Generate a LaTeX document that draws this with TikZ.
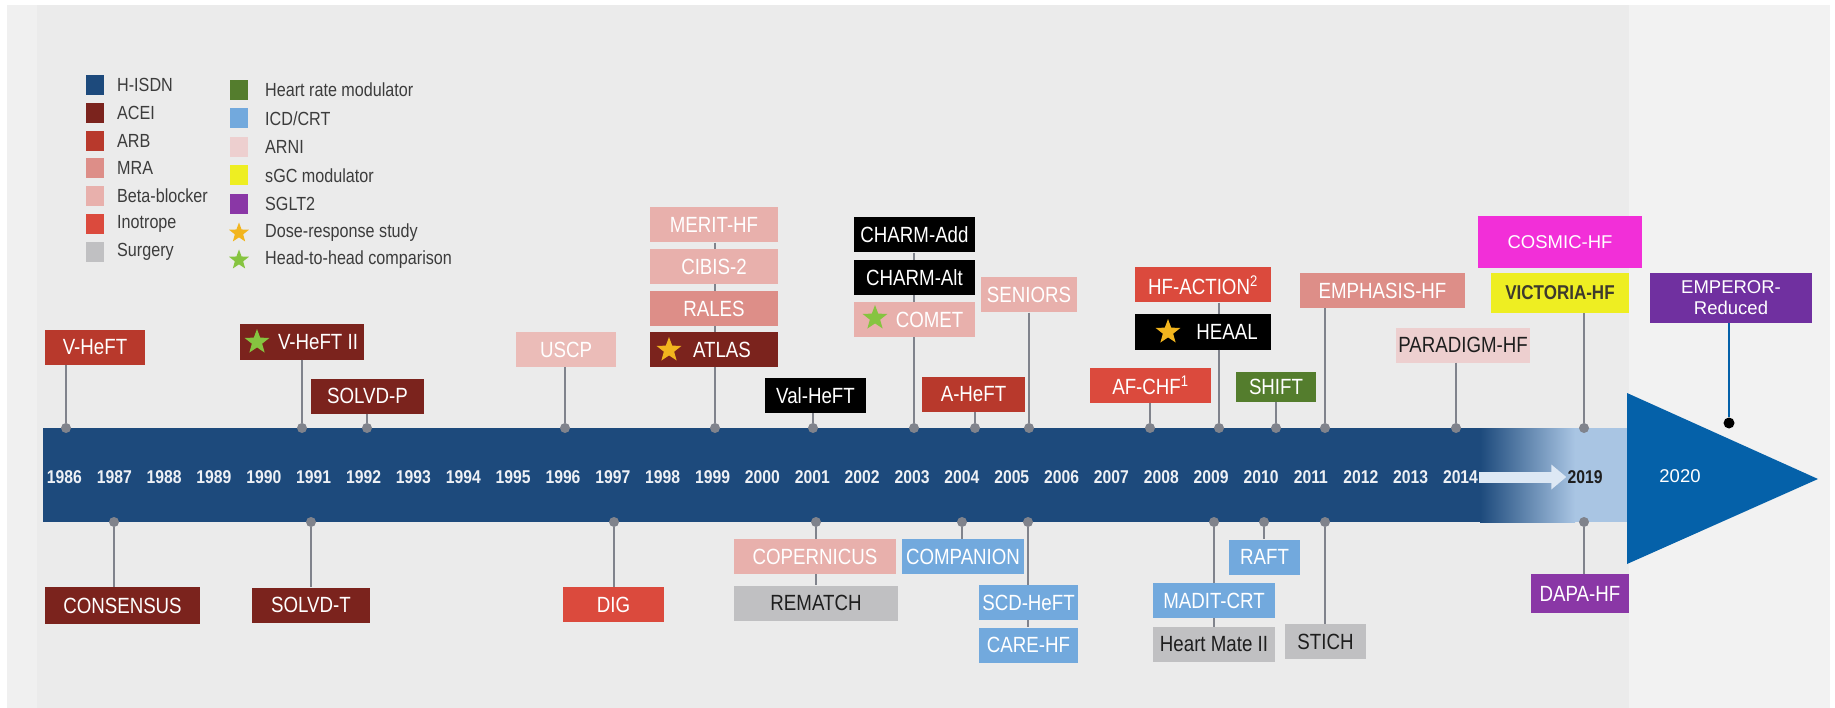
\documentclass[tikz,border=0pt]{standalone}
\usepackage{fontspec}
\setmainfont{Liberation Sans}
\newfontfamily\oldfont{Liberation Sans}[FakeStretch=0.85]
\usetikzlibrary{arrows.meta,shapes.geometric}
\definecolor{hisdn}{HTML}{1D4A7C}
\definecolor{acei}{HTML}{7B231D}
\definecolor{arb}{HTML}{B8392C}
\definecolor{mra}{HTML}{DD8E88}
\definecolor{bblock}{HTML}{E8B0AC}
\definecolor{inotrope}{HTML}{DB4A3D}
\definecolor{surgery}{HTML}{C0C0C2}
\definecolor{hrmod}{HTML}{547D2D}
\definecolor{icdcrt}{HTML}{72A9DD}
\definecolor{arni}{HTML}{EDCFCF}
\definecolor{sgc}{HTML}{EEEE22}
\definecolor{sglt}{HTML}{8A37A6}
\definecolor{dosestar}{HTML}{F2B51E}
\definecolor{hthstar}{HTML}{86C440}
\definecolor{cosmic}{HTML}{F22FD8}
\definecolor{emperor}{HTML}{7030A0}
\definecolor{arrowblue}{HTML}{0561A9}
\definecolor{fadeblue}{HTML}{A9C5E3}
\definecolor{photo}{HTML}{EBEBEB}
\definecolor{photostrip}{HTML}{F0F0F0}
\definecolor{panel}{HTML}{F2F2F2}
\definecolor{stemgrey}{HTML}{80838C}
\definecolor{keyink}{HTML}{3C3C3C}
\definecolor{darkink}{HTML}{1E1E1E}
\tikzset{
  trial/.style={minimum height=35pt, inner sep=0pt, text=white, font=\oldfont\fontsize{22}{24}\selectfont},
  newtrial/.style={inner sep=0pt, text=white, align=center, font=\fontsize{18.5}{22}\selectfont},
  year/.style={text=white!92!hisdn, inner sep=1pt, font=\oldfont\bfseries\fontsize{18.5}{20}\selectfont},
  conn/.style={draw=stemgrey, line width=2.2pt},
  yeardot/.style={circle, fill=stemgrey, minimum size=10pt, inner sep=0pt},
  swatch/.style={minimum width=18pt, minimum height=20pt, inner sep=0pt},
  keytext/.style={anchor=west, inner sep=0pt, text=keyink, font=\oldfont\fontsize{19}{22}\selectfont},
  award/.style={star, star points=5, star point ratio=2.4, minimum size=26pt, inner sep=0pt}
}
\begin{document}
\begin{tikzpicture}[x=1pt,y=-1pt]
\useasboundingbox (0,0) rectangle (1835,708);
% background
\fill[white] (0,0) rectangle (1835,708);
\fill[photo] (7,5) rectangle (1629,708);
\fill[photostrip] (7,5) rectangle (37,708);
\fill[panel] (1629,5) rectangle (1830,708);

% legend
\foreach \c/\t [count=\i from 0] in {hisdn/H-ISDN, acei/ACEI, arb/ARB, mra/MRA, bblock/Beta-blocker, inotrope/Inotrope, surgery/Surgery}{
  \node[swatch, fill=\c] (sw\i) at (95,{85+27.8*\i}) {};
  \node[keytext] (kt\i) at (117,{85+27.8*\i}) {\t};
}
\foreach \c/\t [count=\i from 0] in {hrmod/Heart rate modulator, icdcrt/{ICD/CRT}, arni/ARNI, sgc/sGC modulator, sglt/SGLT2}{
  \node[swatch, fill=\c] (swb\i) at (239,{90+28.5*\i}) {};
  \node[keytext] (ktb\i) at (265,{90+28.5*\i}) {\t};
}
\node[award, fill=dosestar, minimum size=21pt] (swdose) at (239,233) {};
\node[keytext] (ktdose) at (265,233) {Dose-response study};
\node[award, fill=hthstar, minimum size=21pt] (swhth) at (239,260) {};
\node[keytext] (kthth) at (265,260) {Head-to-head comparison};

% timeline bar
\fill[hisdn] (43,428) rectangle (1480,522);
\shade[left color=hisdn, right color=fadeblue] (1480,428) rectangle (1575,522);
\fill[fadeblue] (1575,428) rectangle (1629,522);
\foreach \yr [count=\i from 0] in {1986,...,2014}
  \node[year] (y\yr) at ({64.4+49.86*\i},477) {\yr};
\node[year, text=darkink] (y2019) at (1585,477) {2019};
\draw[draw=white!60!fadeblue, line width=11pt, -{Triangle[length=15pt,width=24pt]}] (y2014.east) -- (y2019.west);

% 2020 arrow
\fill[arrowblue] (1627,393) -- (1818,479) -- (1627,564) -- cycle;
\node[newtrial] (y2020) at (1680,476) {2020};

% trials above the bar
\node[trial, fill=arb, minimum width=100pt] (vheft) at (95,347) {V-HeFT};
\node[trial, fill=acei, minimum width=124pt] (vhefttwo) at (302,342) {\hspace{32pt}V-HeFT II};
\node[trial, fill=acei, minimum width=113pt] (solvdp) at (367.5,396) {SOLVD-P};
\node[trial, fill=bblock!85!white, minimum width=100pt] (uscp) at (566,349.5) {USCP};
\node[trial, fill=bblock, minimum width=128pt] (merit) at (714,225) {MERIT-HF};
\node[trial, fill=bblock, minimum width=128pt] (cibis) at (714,266.5) {CIBIS-2};
\node[trial, fill=mra, minimum width=128pt] (rales) at (714,308.5) {RALES};
\node[trial, fill=acei, minimum width=128pt] (atlas) at (714,349.5) {\hspace{16pt}ATLAS};
\node[trial, fill=black, minimum width=101pt] (valheft) at (815.5,395.5) {Val-HeFT};
\node[trial, fill=black, minimum width=121pt] (charmadd) at (914.5,235) {CHARM-Add};
\node[trial, fill=black, minimum width=121pt] (charmalt) at (914.5,277.5) {CHARM-Alt};
\node[trial, fill=bblock, minimum width=121pt] (comet) at (914.5,319.5) {\hspace{30pt}COMET};
\node[trial, fill=arb, minimum width=103pt] (aheft) at (973.5,394.5) {A-HeFT};
\node[trial, fill=bblock, minimum width=96pt] (seniors) at (1029,295) {SENIORS};
\node[trial, fill=inotrope, minimum width=121pt] (afchf) at (1150.5,385.5) {AF-CHF\textsuperscript{1}};
\node[trial, fill=inotrope, minimum width=136pt] (hfaction) at (1203,285) {HF-ACTION\textsuperscript{2}};
\node[trial, fill=black, minimum width=136pt] (heaal) at (1203,332) {\hspace{48pt}HEAAL};
\node[trial, fill=hrmod, minimum width=80pt, minimum height=30pt] (shifthf) at (1276,387) {SHIFT};
\node[trial, fill=mra, minimum width=165pt] (emphasis) at (1382.5,290.5) {EMPHASIS-HF};
\node[trial, fill=arni, text=darkink, minimum width=134pt] (paradigm) at (1463,345) {PARADIGM-HF};
\node[trial, fill=sgc, text=black!75!olive, minimum width=138pt, minimum height=40pt, font=\oldfont\bfseries\fontsize{20}{24}\selectfont] (victoria) at (1560,293) {VICTORIA-HF};
\node[newtrial, fill=cosmic, minimum width=164pt, minimum height=52pt] (cosmic) at (1560,242) {COSMIC-HF};
\node[newtrial, fill=emperor, minimum width=162pt, minimum height=50pt, font=\fontsize{18.5}{21}\selectfont] (emperorred) at (1731,298) {EMPEROR-\\Reduced};

% trials below the bar
\node[trial, fill=acei, minimum width=155pt, minimum height=37pt] (consensus) at (122.5,605.5) {CONSENSUS};
\node[trial, fill=acei, minimum width=118pt] (solvdt) at (311,605) {SOLVD-T};
\node[trial, fill=inotrope, minimum width=101pt] (dig) at (613.5,604.5) {DIG};
\node[trial, fill=bblock, minimum width=162pt] (copernicus) at (815,556.5) {COPERNICUS};
\node[trial, fill=surgery, text=darkink, minimum width=164pt] (rematch) at (816,603) {REMATCH};
\node[trial, fill=icdcrt, minimum width=122pt] (companion) at (963,556.5) {COMPANION};
\node[trial, fill=icdcrt, minimum width=99pt] (scdheft) at (1028.5,602.5) {SCD-HeFT};
\node[trial, fill=icdcrt, minimum width=99pt] (carehf) at (1028.5,645) {CARE-HF};
\node[trial, fill=icdcrt, minimum width=71pt] (raft) at (1264.5,557) {RAFT};
\node[trial, fill=icdcrt, minimum width=122pt] (madit) at (1214,600.5) {MADIT-CRT};
\node[trial, fill=surgery, text=darkink, minimum width=122pt] (heartmate) at (1214,644.5) {Heart Mate II};
\node[trial, fill=surgery, text=darkink, minimum width=81pt] (stich) at (1325.5,641.5) {STICH};
\node[trial, fill=sglt, minimum width=98pt, minimum height=39pt] (dapa) at (1580,593.5) {DAPA-HF};

% stars
\node[award, fill=hthstar] (starvheft) at (257,342) {};
\node[award, fill=dosestar] (staratlas) at (669,350) {};
\node[award, fill=hthstar] (starcomet) at (875,318) {};
\node[award, fill=dosestar] (starheaal) at (1168,332) {};

% dots on the bar
\foreach \x/\n in {66/1986, 302/1991, 367/1992, 565/1996, 715/1999, 813/2001, 914/2003, 975/2004, 1029/2005, 1150/2008, 1219/2009, 1276/2010, 1325/2011, 1456/2014, 1584/2019}
  \node[yeardot] (u\n) at (\x,428) {};
\foreach \x/\n in {114/1987, 311/1991, 614/1997, 816/2001, 962/2004, 1028/2005, 1214/2009, 1264/2010, 1325/2011, 1584/2019}
  \node[yeardot] (d\n) at (\x,522) {};

% stems
\foreach \b/\d in {vheft/u1986, vhefttwo/u1991, solvdp/u1992, uscp/u1996, atlas/u1999, valheft/u2001, comet/u2003, aheft/u2004, seniors/u2005, afchf/u2008, heaal/u2009, shifthf/u2010, emphasis/u2011, paradigm/u2014, victoria/u2019}
  \draw[conn] (\b.south -| \d) -- (\d);
\foreach \a/\b/\d in {merit/cibis/u1999, cibis/rales/u1999, rales/atlas/u1999, charmadd/charmalt/u2003, charmalt/comet/u2003, hfaction/heaal/u2009, copernicus/rematch/d2001, scdheft/carehf/d2005, madit/heartmate/d2009}
  \draw[conn] (\a.south -| \d) -- (\b.north -| \d);
\foreach \b/\d in {consensus/d1987, solvdt/d1991, dig/d1997, copernicus/d2001, companion/d2004, scdheft/d2005, madit/d2009, raft/d2010, stich/d2011, dapa/d2019}
  \draw[conn] (\d) -- (\b.north -| \d);

% EMPEROR-Reduced stem
\node[circle, fill=black, minimum size=11pt, inner sep=0pt] (edot) at (1729,423) {};
\draw[draw=arrowblue, line width=2.5pt] (emperorred.south -| edot) -- (edot);
\end{tikzpicture}
\end{document}
